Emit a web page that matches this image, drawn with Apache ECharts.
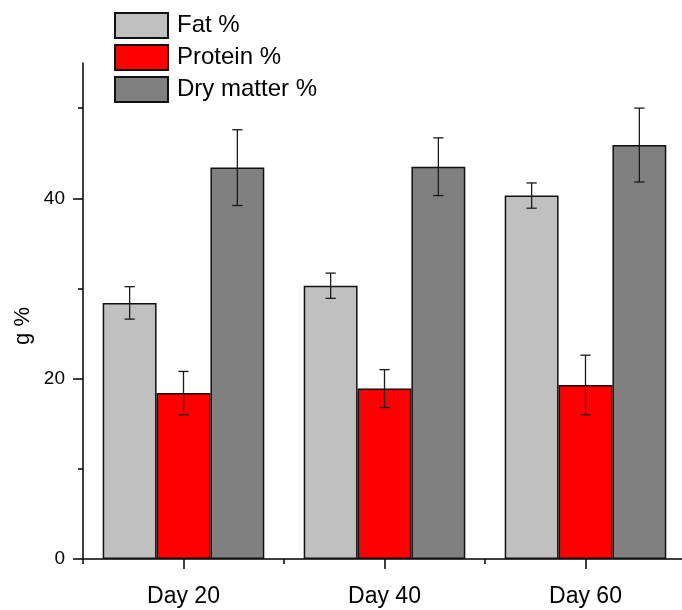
<!DOCTYPE html>
<html>
<head>
<meta charset="utf-8">
<script src="https://cdn.jsdelivr.net/npm/echarts@6/dist/echarts.min.js"></script>
<style>
html,body{margin:0;padding:0;background:#fff;}
#chart{width:682px;height:610px;}
</style>
</head>
<body>
<div id="chart"></div>
<script>
const categories = ['Day 20', 'Day 40', 'Day 60'];
const fatValues = [28.4, 30.3, 40.3];
const fatErrors = [1.8, 1.4, 1.4];
const proteinValues = [18.4, 18.9, 19.3];
const proteinErrors = [2.4, 2.1, 3.3];
const dryValues = [43.4, 43.5, 45.9];
const dryErrors = [4.2, 3.2, 4.1];
const yMajorTicks = [0, 20, 40];
const yMinorTicks = [10, 30, 50];
const seriesNames = ['Fat %', 'Protein %', 'Dry matter %'];
const yAxisName = 'g %';

const FONT = 'Liberation Sans, Arial, Helvetica, sans-serif';
const BAR_FRAC = 0.268;
const colors = ['#c0c0c0', '#ff0000', '#808080'];

function errData(values, errors, idx) {
  return values.map((v, i) => [i, v, errors[i], idx]);
}

function renderErr(params, api) {
  const cat = api.value(0), val = api.value(1), err = api.value(2), idx = api.value(3);
  const band = api.size([1, 0])[0];
  const bw = band * BAR_FRAC;
  const c = api.coord([cat, val]);
  const x = c[0] + (idx - 1) * bw;
  const top = api.coord([cat, val + err])[1];
  const bot = api.coord([cat, val - err])[1];
  const half = bw * 0.095;
  const style = { stroke: '#1a1a1a', lineWidth: 1.3 };
  return {
    type: 'group',
    children: [
      { type: 'line', shape: { x1: x, y1: top, x2: x, y2: bot }, style },
      { type: 'line', shape: { x1: x - half, y1: top, x2: x + half, y2: top }, style },
      { type: 'line', shape: { x1: x - half, y1: bot, x2: x + half, y2: bot }, style }
    ]
  };
}

const barValues = [fatValues, proteinValues, dryValues];
const errValues = [fatErrors, proteinErrors, dryErrors];

const series = [];
barValues.forEach((vals, i) => {
  series.push({
    name: seriesNames[i],
    type: 'bar',
    data: vals,
    barWidth: (BAR_FRAC * 100) + '%',
    barGap: '0%',
    itemStyle: { color: colors[i], borderColor: '#111', borderWidth: 1.5 },
    xAxisIndex: 0,
    yAxisIndex: 0,
    z: 2
  });
});
errValues.forEach((errs, i) => {
  series.push({
    name: 'err' + i,
    type: 'custom',
    renderItem: renderErr,
    data: errData(barValues[i], errs, i),
    encode: { x: 0, y: 1 },
    xAxisIndex: 0,
    yAxisIndex: 0,
    z: 5,
    silent: true
  });
});

const chart = echarts.init(document.getElementById('chart'), null, { renderer: 'canvas' });
chart.setOption({
  animation: false,
  backgroundColor: '#fff',
  grid: { left: 83, top: 63, width: 603, height: 496, containLabel: false, outerBoundsMode: 'none' },
  legend: {
    data: seriesNames,
    orient: 'vertical',
    left: 114,
    top: 12,
    itemWidth: 53,
    itemHeight: 25,
    itemGap: 5,
    icon: 'rect',
    padding: 0,
    textStyle: { fontFamily: FONT, fontSize: 24, color: '#000', padding: [0, 0, 0, 4] }
  },
  xAxis: [
    {
      type: 'category',
      data: categories,
      position: 'bottom',
      axisLine: { show: true, lineStyle: { color: '#000', width: 1.5 } },
      axisTick: { show: true, alignWithLabel: true, length: 10, lineStyle: { color: '#000', width: 1.5 } },
      axisLabel: { fontFamily: FONT, fontSize: 23, color: '#000', margin: 26 },
      splitLine: { show: false }
    },
    {
      type: 'category',
      data: categories,
      position: 'bottom',
      axisLine: { show: false },
      axisTick: { show: true, length: 5, lineStyle: { color: '#000', width: 1.5 } },
      axisLabel: { show: false },
      splitLine: { show: false }
    }
  ],
  yAxis: [
    {
      type: 'value',
      min: 0,
      max: 55,
      position: 'left',
      axisLine: { show: true, lineStyle: { color: '#000', width: 1.5 } },
      axisTick: { show: true, length: 10, customValues: yMajorTicks, lineStyle: { color: '#000', width: 1.5 } },
      axisLabel: { customValues: yMajorTicks, fontFamily: FONT, fontSize: 19, color: '#000', margin: 18 },
      splitLine: { show: false }
    },
    {
      type: 'value',
      min: 0,
      max: 55,
      position: 'left',
      axisLine: { show: false },
      axisTick: { show: true, length: 5, customValues: yMinorTicks, lineStyle: { color: '#000', width: 1.5 } },
      axisLabel: { show: false },
      splitLine: { show: false }
    }
  ],
  graphic: [
    {
      type: 'text',
      x: 23,
      y: 326,
      rotation: Math.PI / 2,
      style: {
        text: yAxisName,
        fontFamily: FONT,
        fontSize: 22,
        fill: '#000',
        align: 'center',
        verticalAlign: 'middle'
      }
    }
  ],
  series: series
});
</script>
</body>
</html>
